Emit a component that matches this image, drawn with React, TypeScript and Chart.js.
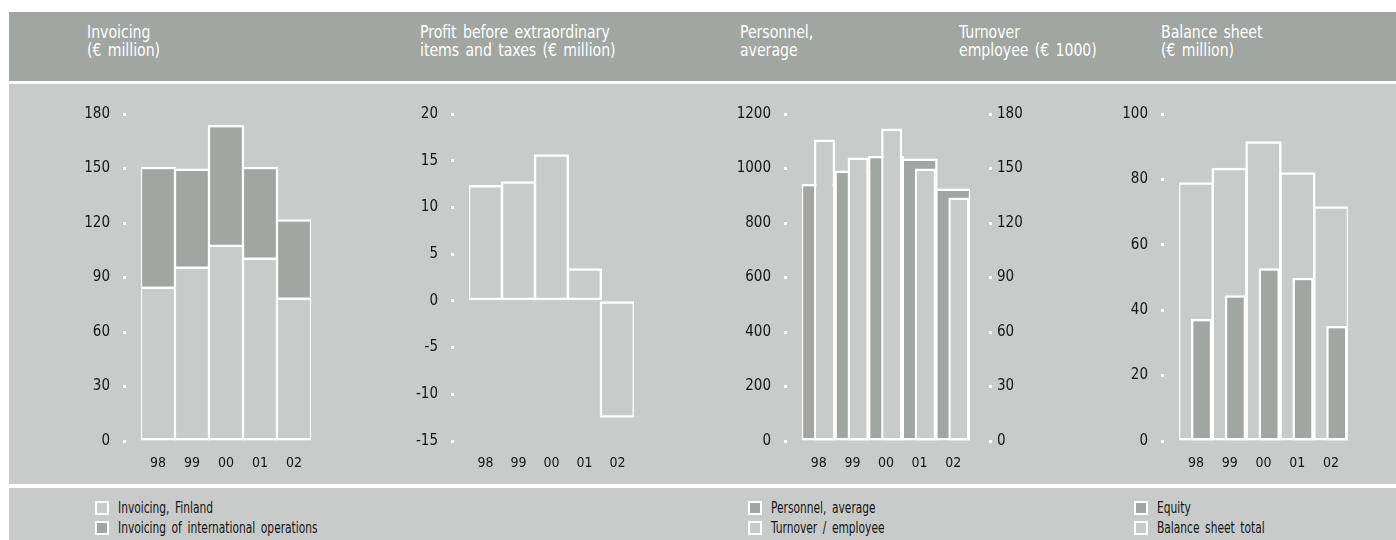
import React, { useEffect, useRef } from "react";
import { Chart, registerables } from "chart.js";

Chart.register(...registerables);

// ---------- data ----------
const years = ["98", "99", "00", "01", "02"];

const invoicingFinland = [85, 96, 108, 101, 79];
const invoicingInternational = [66, 54, 66, 50, 43];

const profitBeforeTaxes = [12.4, 12.8, 15.7, 3.5, -12.5];

const personnelAverage = [943, 993, 1046, 1037, 927];
const turnoverPerEmployee = [166, 156, 172, 150, 134];

const equity = [37.3, 44.6, 52.8, 49.9, 35.2];
const balanceSheetTotal = [79.1, 83.6, 91.7, 82.2, 71.8];

const invoicingTicks = [0, 30, 60, 90, 120, 150, 180];
const profitTicks = [-15, -10, -5, 0, 5, 10, 15, 20];
const personnelTicks = [0, 200, 400, 600, 800, 1000, 1200];
const turnoverTicks = [0, 30, 60, 90, 120, 150, 180];
const balanceTicks = [0, 20, 40, 60, 80, 100];

const headerTitles = [
  "Invoicing\n(€ million)",
  "Profit before extraordinary\nitems and taxes (€ million)",
  "Personnel,\naverage",
  "Turnover\nemployee (€ 1000)",
  "Balance sheet\n(€ million)",
];
const invoicingLegend = ["Invoicing, Finland", "Invoicing of international operations"];
const personnelLegend = ["Personnel, average", "Turnover / employee"];
const balanceLegend = ["Equity", "Balance sheet total"];

// ---------- styles ----------
const FONT = "'Liberation Sans Narrow', 'DejaVu Sans Condensed', 'Arial Narrow', sans-serif";
const WHITE = "#ffffff";
const PANEL = "#c9cbca";
const DARK = "#a2a6a2";
const INK = "#141414";
const CLEAR = "rgba(0,0,0,0)";

const PANEL_TOP = 84;
const PANEL_H = 400;
const PLOT_TOP_PAD = 30;
const PLOT_BOTTOM_PAD = 13;
const X_AXIS_H = 30;

const BORDER = 2.5;
const FULL_BAR = { barPercentage: 1.075, categoryPercentage: 1, borderColor: WHITE, borderWidth: BORDER };
const OFFSET_BAR = {
  barPercentage: 1.85,
  categoryPercentage: 0.68,
  borderColor: WHITE,
  borderWidth: BORDER,
  borderSkipped: false,
  grouped: true,
};

function yAxis(ticks: number[], width: number, position: "left" | "right", extra: any = {}) {
  const left = position === "left";
  return {
    position,
    min: ticks[0],
    max: ticks[ticks.length - 1],
    afterBuildTicks: (s: any) => {
      s.ticks = ticks.map((v) => ({ value: v }));
    },
    afterFit: (s: any) => {
      s.width = width;
    },
    border: { display: false },
    grid: {
      drawOnChartArea: false,
      drawTicks: true,
      tickLength: left ? 18 : 22,
      tickWidth: 3,
      tickColor: WHITE,
      tickBorderDash: left ? [3, 100] : [0, 19, 3, 100],
    },
    ticks: {
      color: INK,
      font: { family: FONT, size: 15 },
      padding: left ? 13 : 5,
      callback: (v: any) => String(v),
    },
    ...extra,
  };
}

function xAxis(extra: any = {}) {
  return {
    type: "category",
    afterFit: (s: any) => {
      s.height = X_AXIS_H;
    },
    border: { display: false },
    grid: { display: false, drawTicks: false },
    ticks: { color: INK, font: { family: FONT, size: 14 }, padding: 14, maxRotation: 0, autoSkip: false },
    ...extra,
  };
}

function baseOptions(scales: any, padRight: number) {
  return {
    responsive: false,
    animation: false,
    events: [],
    layout: { padding: { top: PLOT_TOP_PAD, bottom: PLOT_BOTTOM_PAD, left: 0, right: padRight } },
    plugins: { legend: { display: false }, tooltip: { enabled: false } },
    scales,
  };
}

const spacer = (yAxisID: string) => ({
  label: "",
  data: [],
  order: 0,
  grouped: true,
  categoryPercentage: OFFSET_BAR.categoryPercentage,
  barPercentage: OFFSET_BAR.barPercentage,
  yAxisID,
  backgroundColor: CLEAR,
  borderWidth: 0,
});

const invoicingConfig = () => ({
  type: "bar",
  data: {
    labels: years,
    datasets: [
      { label: invoicingLegend[0], data: invoicingFinland, backgroundColor: PANEL, ...FULL_BAR, borderSkipped: false },
      { label: invoicingLegend[1], data: invoicingInternational, backgroundColor: DARK, ...FULL_BAR, borderSkipped: "bottom" },
    ],
  },
  options: baseOptions({ x: xAxis({ stacked: true }), y: yAxis(invoicingTicks, 101, "left", { stacked: true }) }, 6),
});

const profitConfig = () => ({
  type: "bar",
  data: {
    labels: years,
    datasets: [{ label: "Profit", data: profitBeforeTaxes, backgroundColor: CLEAR, ...FULL_BAR, borderSkipped: false }],
  },
  options: baseOptions({ x: xAxis(), y: yAxis(profitTicks, 89, "left") }, 6),
});

const personnelConfig = () => ({
  type: "bar",
  data: {
    labels: years,
    datasets: [
      spacer("y2"),
      { label: personnelLegend[1], data: turnoverPerEmployee, yAxisID: "y2", order: 1, backgroundColor: PANEL, ...OFFSET_BAR },
      {
        label: personnelLegend[0],
        data: personnelAverage,
        yAxisID: "y",
        order: 2,
        grouped: false,
        backgroundColor: DARK,
        ...FULL_BAR,
        borderSkipped: false,
      },
    ],
  },
  options: baseOptions(
    { x: xAxis(), y: yAxis(personnelTicks, 87, "left"), y2: yAxis(turnoverTicks, 60, "right") },
    0
  ),
});

const balanceConfig = () => ({
  type: "bar",
  data: {
    labels: years,
    datasets: [
      spacer("y"),
      { label: balanceLegend[0], data: equity, order: 1, backgroundColor: DARK, ...OFFSET_BAR },
      {
        label: balanceLegend[1],
        data: balanceSheetTotal,
        order: 2,
        grouped: false,
        backgroundColor: CLEAR,
        ...FULL_BAR,
        borderSkipped: false,
      },
    ],
  },
  options: baseOptions({ x: xAxis(), y: yAxis(balanceTicks, 89, "left") }, 6),
});

function ChartBox({ left, width, build }: { left: number; width: number; build: () => any }) {
  const ref = useRef<HTMLCanvasElement>(null);
  useEffect(() => {
    const chart = new Chart(ref.current as HTMLCanvasElement, build() as any);
    return () => chart.destroy();
  }, []);
  return (
    <canvas
      ref={ref}
      width={width}
      height={PANEL_H}
      style={{ position: "absolute", left, top: PANEL_TOP, width, height: PANEL_H }}
    />
  );
}

function Legend({ x, labels, fills }: { x: number; labels: string[]; fills: string[] }) {
  return (
    <>
      {labels.map((label, i) => (
        <div
          key={label}
          style={{
            position: "absolute",
            left: x,
            top: 500 + i * 20,
            height: 16,
            display: "flex",
            alignItems: "center",
            whiteSpace: "nowrap",
          }}
        >
          <div
            style={{
              width: 10,
              height: 10,
              border: "2px solid " + WHITE,
              background: fills[i],
              marginRight: 9,
              flex: "none",
            }}
          />
          <span
            style={{
              display: "inline-block",
              fontSize: 16,
              color: INK,
              lineHeight: "16px",
              transform: "scaleX(0.74)",
              transformOrigin: "left center",
              wordSpacing: 3,
            }}
          >
            {label}
          </span>
        </div>
      ))}
    </>
  );
}

const headerX = [87, 420, 740, 959, 1161];

export default function App() {
  return (
    <div
      style={{
        position: "absolute",
        left: 0,
        top: 0,
        width: 1396,
        height: 540,
        background: WHITE,
        overflow: "hidden",
        fontFamily: FONT,
      }}
    >
      <div style={{ position: "absolute", left: 9, top: 12, width: 1387, height: 69, background: DARK }} />
      <div style={{ position: "absolute", left: 9, top: PANEL_TOP, width: 1387, height: PANEL_H, background: PANEL }} />
      <div style={{ position: "absolute", left: 9, top: 488, width: 1387, height: 52, background: PANEL }} />
      {headerTitles.map((t, i) => (
        <div
          key={i}
          style={{
            position: "absolute",
            left: headerX[i],
            top: 23,
            color: WHITE,
            fontSize: 17,
            lineHeight: "18px",
            whiteSpace: "pre",
            wordSpacing: 2,
            transform: "scaleX(0.92)",
            transformOrigin: "left top",
          }}
        >
          {t}
        </div>
      ))}
      <ChartBox left={40} width={277} build={invoicingConfig} />
      <ChartBox left={380} width={260} build={profitConfig} />
      <ChartBox left={715} width={315} build={personnelConfig} />
      <ChartBox left={1090} width={264} build={balanceConfig} />
      <Legend x={95} labels={invoicingLegend} fills={[PANEL, DARK]} />
      <Legend x={748} labels={personnelLegend} fills={[DARK, PANEL]} />
      <Legend x={1134} labels={balanceLegend} fills={[DARK, PANEL]} />
    </div>
  );
}
